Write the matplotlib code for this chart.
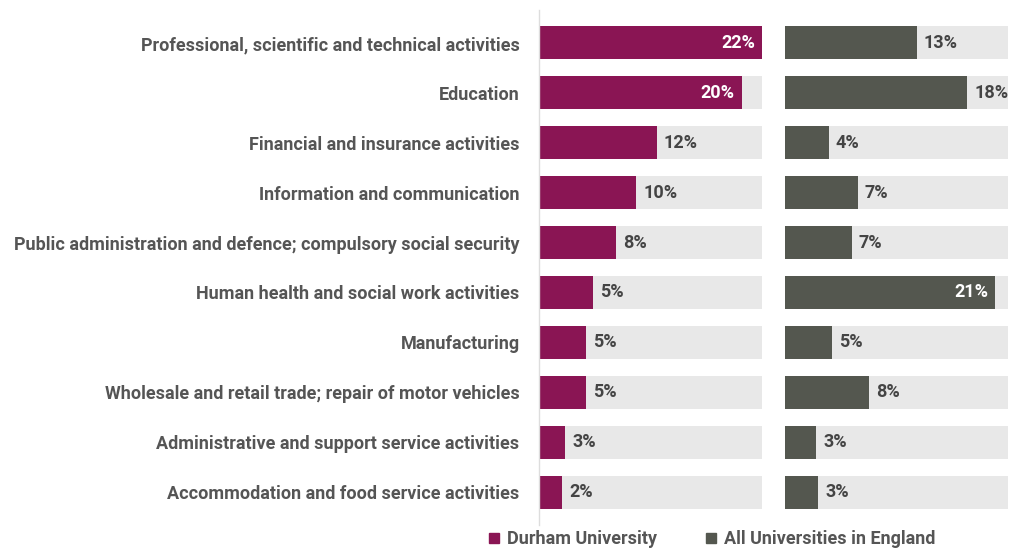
import matplotlib.pyplot as plt
from matplotlib.lines import Line2D

plt.rcParams['font.family'] = ['Roboto', 'DejaVu Sans']

sectors = [
    'Professional, scientific and technical activities',
    'Education',
    'Financial and insurance activities',
    'Information and communication',
    'Public administration and defence; compulsory social security',
    'Human health and social work activities',
    'Manufacturing',
    'Wholesale and retail trade; repair of motor vehicles',
    'Administrative and support service activities',
    'Accommodation and food service activities',
]
durham = [22.0, 20.0, 11.6, 9.6, 7.6, 5.3, 4.6, 4.6, 2.6, 2.3]
england = [13.0, 18.0, 4.3, 7.2, 6.6, 20.7, 4.6, 8.3, 3.1, 3.3]
series_names = ['Durham University', 'All Universities in England']

scale_max = 22.0
purple = '#8A1554'
dark = '#54574F'
track = '#E8E8E8'
label_col = '#555555'
value_col = '#444444'

fig = plt.figure(figsize=(10.19, 5.53), dpi=100)
W, H = 1019, 553
ax_l = fig.add_axes([539 / W, 1 - 517 / H, 223 / W, 499 / H])
ax_r = fig.add_axes([785 / W, 1 - 517 / H, 223 / W, 499 / H])

ypos = list(range(len(sectors)))

for ax, vals, col in [(ax_l, durham, purple), (ax_r, england, dark)]:
    ax.barh(ypos, [scale_max] * len(ypos), height=0.66, color=track)
    ax.barh(ypos, vals, height=0.66, color=col)
    for y, v in zip(ypos, vals):
        txt = f'{round(v)}%'
        if v > 19:
            ax.annotate(txt, (v, y), xytext=(-5, 0), textcoords='offset points',
                        ha='right', va='center', color='white',
                        fontsize=13, fontweight='bold')
        else:
            ax.annotate(txt, (v, y), xytext=(5, 0), textcoords='offset points',
                        ha='left', va='center', color=value_col,
                        fontsize=13, fontweight='bold')
    ax.set_xlim(0, scale_max)
    ax.set_ylim(len(sectors) - 0.5, -0.5)
    ax.set_xticks([])
    for s in ['top', 'right', 'bottom', 'left']:
        ax.spines[s].set_visible(False)

ax_l.set_yticks(ypos)
ax_l.set_yticklabels(sectors, fontsize=13, fontweight='bold', color=label_col)
ax_l.tick_params(axis='y', length=0, pad=14)
ax_r.set_yticks([])

# thin axis rule at the left of the Durham panel
fig.add_artist(Line2D([539 / W, 539 / W], [1 - 10 / H, 1 - 525 / H],
                      color='#DDDDDD', lw=1))

handles = [Line2D([], [], marker='s', ls='', color=c, markersize=7.5)
           for c in (purple, dark)]
fig.legend(handles, series_names, loc='center', bbox_to_anchor=(712 / W, 1 - 539 / H),
           ncol=2, frameon=False, handlelength=0.6, handletextpad=0.4,
           columnspacing=2.7,
           prop={'family': ['Roboto', 'DejaVu Sans'], 'weight': 'bold', 'size': 13},
           labelcolor=label_col)

fig.savefig('out.png', dpi=100)
